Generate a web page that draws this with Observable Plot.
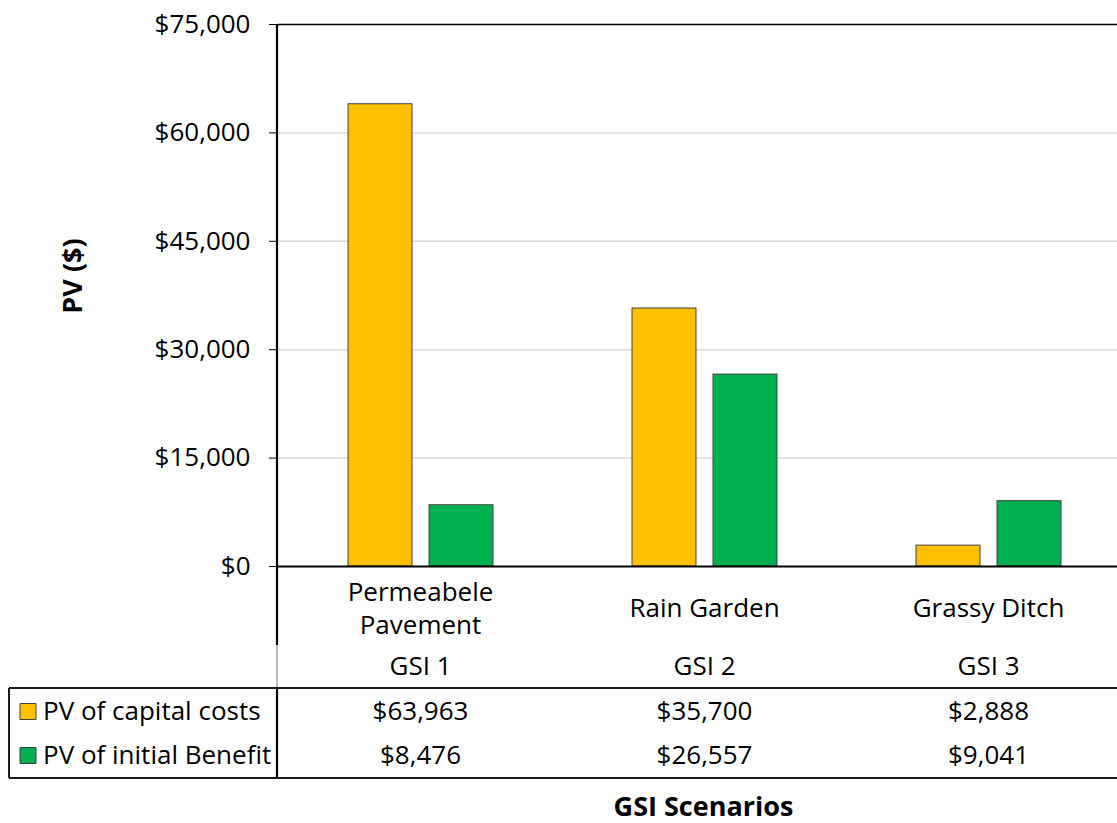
<!DOCTYPE html>
<html>
<head>
<meta charset="utf-8">
<script src="https://cdn.jsdelivr.net/npm/d3@7"></script>
<script src="https://cdn.jsdelivr.net/npm/@observablehq/plot@0.6"></script>
<style>
html, body { margin: 0; padding: 0; background: #fff; overflow: hidden; }
#chart svg { display: block; }
</style>
</head>
<body>
<div id="chart"></div>
<script>
// ---- data ----
const categories = ["Permeabele\nPavement", "Rain Garden", "Grassy Ditch"];
const scenarioLabels = ["GSI 1", "GSI 2", "GSI 3"];
const seriesNames = ["PV of capital costs", "PV of initial Benefit"];
const capitalCosts = [63963, 35700, 2888];
const initialBenefit = [8476, 26557, 9041];
const yTicks = [0, 15000, 30000, 45000, 60000, 75000];
const seriesColors = ["#FFC000", "#00B050"];
const yTitle = "PV ($)";
const xTitle = "GSI Scenarios";

// ---- tables built from the arrays ----
const seriesValues = [capitalCosts, initialBenefit];
const rows = [];
categories.forEach((c, i) => {
  seriesNames.forEach((s, j) => rows.push({category: c, series: s, value: seriesValues[j][i], row: j}));
});
const catRows = categories.map((c, i) => ({category: c, scenario: scenarioLabels[i]}));
const legendRows = seriesNames.map((s, j) => ({series: s, row: j, category: categories[0]}));
const fmt = d3.format("$,.0f");

const font = "'Open Sans', sans-serif";
const fs = 26;
const rowDy = [145, 189];
const swatchDx = -250.5;
const legendDx = -235.5;
const barStroke = "#404040";

const chart = Plot.plot({
  width: 1130,
  height: 823,
  marginTop: 24,
  marginBottom: 257,
  marginLeft: 277,
  marginRight: 0,
  style: {fontFamily: font, fontSize: fs + "px", color: "#000", background: "#fff", overflow: "visible"},
  fx: {domain: categories, padding: 0, axis: null},
  x: {domain: seriesNames, paddingInner: 0.21, paddingOuter: 0.858, axis: null},
  y: {domain: [0, 75000], ticks: yTicks, tickFormat: fmt, tickSize: 9, tickPadding: 19, label: null},
  color: {domain: seriesNames, range: seriesColors},
  marks: [
    Plot.ruleY(yTicks.slice(1, -1), {stroke: "#d9d9d9", strokeWidth: 1.5}),
    Plot.barY(rows, {fx: "category", x: "series", y: "value", fill: "series", stroke: barStroke, strokeWidth: 1}),
    Plot.ruleY([0], {stroke: "#000", strokeWidth: 2.2}),
    Plot.ruleY([75000], {stroke: "#000", strokeWidth: 1.6}),
    // category labels and scenario labels
    Plot.text(catRows, {fx: "category", text: "category", frameAnchor: "bottom", dy: 40, lineAnchor: "middle", lineHeight: 1.27, fill: "#000"}),
    Plot.text(catRows, {fx: "category", text: "scenario", frameAnchor: "bottom", dy: 100, lineAnchor: "middle", fill: "#000"}),
    // data table values
    ...[0, 1].map(j => Plot.text(rows.filter(d => d.row === j), {fx: "category", text: d => fmt(d.value), frameAnchor: "bottom", dy: rowDy[j], lineAnchor: "middle", fill: "#000"})),
    // legend keys in the table
    ...[0, 1].map(j => Plot.dot(legendRows.filter(d => d.row === j), {fx: "category", fill: "series", symbol: "square", r: 9.03, stroke: barStroke, strokeWidth: 1, frameAnchor: "bottom-left", dx: swatchDx, dy: rowDy[j]})),
    ...[0, 1].map(j => Plot.text(legendRows.filter(d => d.row === j), {fx: "category", text: "series", frameAnchor: "bottom-left", textAnchor: "start", dx: legendDx, dy: rowDy[j], lineAnchor: "middle", fill: "#000"}))
  ]
});
chart.style.maxWidth = "none";
document.getElementById("chart").appendChild(chart);

// ---- table frame and titles, positioned from the scales ----
const ys = chart.scale("y");
const fxs = chart.scale("fx");
const y0 = ys.apply(0);
const yTop = ys.apply(75000);
const left = fxs.range[0];
const right = fxs.range[1];
const tableTop = y0 + 122;
const tableBottom = y0 + 212;
const tableLeft = 9;
const svg = d3.select(chart);
const g = svg.append("g").attr("fill", "none");
function line(x1, y1, x2, y2, stroke, w) {
  g.append("line").attr("x1", x1).attr("y1", y1).attr("x2", x2).attr("y2", y2)
    .attr("stroke", stroke).attr("stroke-width", w);
}
line(left, yTop, left, y0 + 79, "#000", 2.2);
line(left, y0 + 79, left, tableTop, "#8c8c8c", 1.2);
line(left, tableTop, left, tableBottom, "#000", 2.2);
line(tableLeft, tableTop, right, tableTop, "#1a1a1a", 2);
line(tableLeft, tableBottom, right, tableBottom, "#1a1a1a", 2);
line(tableLeft, tableTop, tableLeft, tableBottom, "#1a1a1a", 2);

svg.append("text")
  .attr("transform", `translate(71, ${(yTop + y0) / 2 - 19}) rotate(-90)`)
  .attr("text-anchor", "middle").attr("dominant-baseline", "central")
  .attr("font-family", font).attr("font-size", 27).attr("font-weight", "bold").attr("fill", "#000")
  .text(yTitle);
svg.append("text")
  .attr("x", (left + right) / 2).attr("y", tableBottom + 27)
  .attr("text-anchor", "middle").attr("dominant-baseline", "central")
  .attr("font-family", font).attr("font-size", 27).attr("font-weight", "bold").attr("fill", "#000")
  .text(xTitle);
</script>
</body>
</html>
